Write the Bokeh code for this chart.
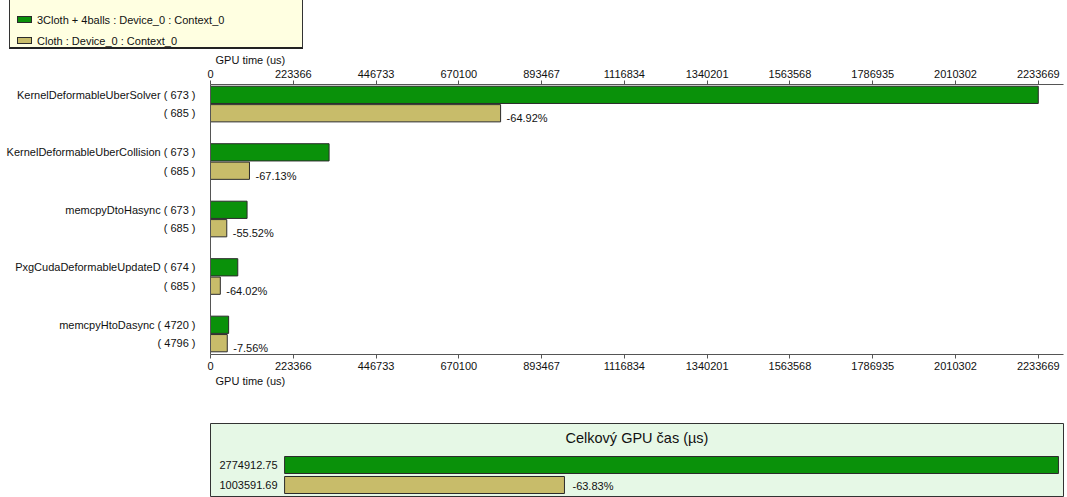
from bokeh.plotting import figure
from bokeh.models import (Range1d, FixedTicker, LinearAxis, NumeralTickFormatter,
                          Label, ColumnDataSource, Div, Title)
from bokeh.layouts import column
from bokeh.embed import file_html
from bokeh.resources import INLINE
from bokeh.core.properties import value

# ---------------- data ----------------
kernels = ["KernelDeformableUberSolver", "KernelDeformableUberCollision",
           "memcpyDtoHasync", "PxgCudaDeformableUpdateD", "memcpyHtoDasync"]
calls_a = [673, 673, 673, 674, 4720]
calls_b = [685, 685, 685, 685, 4796]
time_a = [2233669, 320000, 98700, 73600, 48943.75]
time_b = [782781, 105184, 43902, 26481, 45243.69]
pct_labels = ["-64.92%", "-67.13%", "-55.52%", "-64.02%", "-7.56%"]
series_names = ["3Cloth + 4balls : Device_0 : Context_0", "Cloth : Device_0 : Context_0"]
x_ticks = [0, 223366, 446733, 670100, 893467, 1116834, 1340201, 1563568,
           1786935, 2010302, 2233669]
total_a = 2774912.75
total_b = 1003591.69
total_title = "Celkový GPU čas (µs)"
axis_title = "GPU time (us)"

GREEN = "#0A910A"
TAN = "#C8BC6A"
EDGE = "#2b2b2b"
TXT = "#111111"
FONT = "Liberation Sans"
series_colors = [GREEN, TAN]

# ---------------- legend (HTML box) ----------------
rows_html = ""
for i, (name, col) in enumerate(zip(series_names, series_colors)):
    top = 12 + 21 * i
    rows_html += (
        f'<div style="position:absolute;left:7px;top:{top}px;height:14px;'
        f'line-height:14px;white-space:nowrap;">'
        f'<span style="display:inline-block;box-sizing:border-box;width:15px;height:7px;'
        f'background:{col};border:1px solid {EDGE};vertical-align:middle;'
        f'margin-right:5px;position:relative;top:-1px;"></span>'
        f'<span style="vertical-align:middle;">{name}</span></div>'
    )
legend_html = (
    f'<div style="margin-left:9px;width:294px;height:49px;box-sizing:border-box;'
    f'background:#FFFFE1;border-left:1px solid #333;border-right:1px solid #333;'
    f'border-bottom:2px solid #222;position:relative;font-family:\'{FONT}\';'
    f'font-size:11px;color:{TXT};">{rows_html}</div>'
)
legend_div = Div(text=legend_html, width=310, height=49, margin=0)

# ---------------- main chart ----------------
pitch = 100
off = 16
ya = [i * pitch - off for i in range(len(kernels))]
yb = [i * pitch + off for i in range(len(kernels))]

p = figure(width=1066, height=373, output_backend="svg", toolbar_location=None,
           x_range=Range1d(0, 2301700), y_range=Range1d(435.7, -34),
           x_axis_location="above", min_border_left=210, min_border_right=0,
           min_border_top=35, min_border_bottom=68)
p.grid.visible = False
p.outline_line_color = None

src_a = ColumnDataSource(dict(y=ya, right=time_a))
src_b = ColumnDataSource(dict(y=yb, right=time_b, pct=pct_labels))
p.hbar(y="y", right="right", left=0, height=30, source=src_a, fill_color=GREEN,
       line_color=EDGE, line_width=1)
p.hbar(y="y", right="right", left=0, height=30, source=src_b, fill_color=TAN,
       line_color=EDGE, line_width=1)
p.text(x="right", y="y", text="pct", source=src_b, x_offset=6, y_offset=5,
       text_baseline="middle", text_align="left", text_font=value(FONT),
       text_font_size="11px", text_color=TXT)

bottom_axis = LinearAxis()
p.add_layout(bottom_axis, "below")
for ax in (p.xaxis[0], bottom_axis):
    ax.ticker = FixedTicker(ticks=x_ticks)
    ax.formatter = NumeralTickFormatter(format="0")
    ax.major_label_text_font = FONT
    ax.major_label_text_font_size = "11px"
    ax.major_label_text_color = TXT
    ax.major_label_standoff = 3
    ax.axis_line_color = "#555555"
    ax.major_tick_line_color = "#555555"
    ax.major_tick_out = 4
    ax.major_tick_in = 0
    ax.minor_tick_line_color = None

# axis titles, left-aligned just after the axis start
for side in ("above", "below"):
    t = Title(text=axis_title, align="left", offset=5, standoff=1,
              text_font=FONT, text_font_size="11px", text_font_style="normal",
              text_color=TXT)
    p.add_layout(t, side)

yax = p.yaxis[0]
yax.ticker = FixedTicker(ticks=ya + yb)
overrides = {}
for i, k in enumerate(kernels):
    overrides[ya[i]] = f"{k} ( {calls_a[i]} )"
    overrides[yb[i]] = f"( {calls_b[i]} )"
yax.major_label_overrides = overrides
yax.major_label_text_font = FONT
yax.major_label_text_font_size = "11px"
yax.major_label_text_color = TXT
yax.major_tick_line_color = None
yax.minor_tick_line_color = None
yax.major_label_standoff = 9
yax.axis_line_color = "#555555"

# ---------------- summary panel ----------------
q = figure(width=1066, height=75, output_backend="svg", toolbar_location=None,
           x_range=Range1d(-265645, 2793000), y_range=Range1d(1.575, -2.075),
           min_border_left=210, min_border_right=3, min_border_top=1,
           min_border_bottom=1)
q.axis.visible = False
q.grid.visible = False
q.background_fill_color = "#E6F8E6"
q.border_fill_color = "white"
q.outline_line_color = "#333333"
q.outline_line_width = 1

totals = [total_a, total_b]
tsrc = ColumnDataSource(dict(y=[0, 1], right=totals, color=series_colors,
                             lab=[f"{v:.2f}" for v in totals]))
q.hbar(y="y", right="right", left=0, height=0.85, source=tsrc, fill_color="color",
       line_color=EDGE, line_width=1)
q.text(x=0, y="y", text="lab", source=tsrc, x_offset=-7, text_align="right",
       text_baseline="middle", text_font=value(FONT), text_font_size="11px",
       text_color=TXT)
pct_total = f"{(total_b / total_a - 1) * 100:.2f}%"
q.text(x=[total_b], y=[1], text=[pct_total], x_offset=8, y_offset=1,
       text_align="left", text_baseline="middle", text_font=value(FONT),
       text_font_size="11px", text_color=TXT)
q.add_layout(Label(x=(q.x_range.start + q.x_range.end) / 2, y=-1.375,
                   text=total_title, text_align="center", text_baseline="middle",
                   text_font=FONT, text_font_size="14.5px", text_color=TXT))

layout = column(legend_div, p, q, spacing=0)
open("out.html", "w").write(file_html(layout, INLINE))
